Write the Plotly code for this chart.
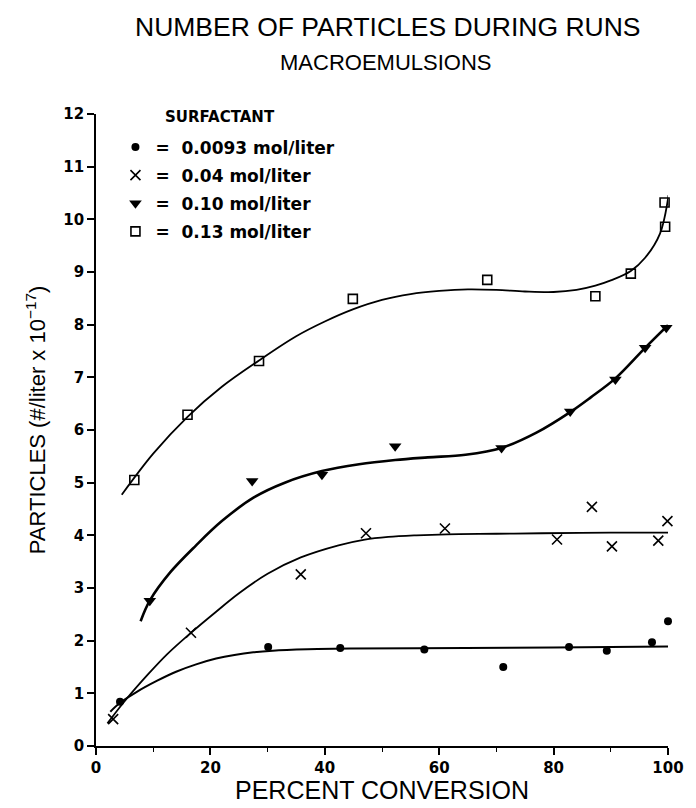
import plotly.graph_objects as go

# ---- data ----
x_0093 = [4.2, 30.1, 42.7, 57.4, 71.2, 82.7, 89.3, 97.2, 100.0]
y_0093 = [0.84, 1.88, 1.86, 1.83, 1.50, 1.88, 1.81, 1.97, 2.37]

x_004 = [3.0, 16.6, 35.8, 47.2, 61.0, 80.6, 86.7, 90.2, 98.3, 99.9]
y_004 = [0.51, 2.15, 3.26, 4.04, 4.13, 3.92, 4.54, 3.79, 3.90, 4.27]

x_010 = [9.4, 27.3, 39.5, 52.3, 70.9, 82.9, 90.8, 96.0, 99.7]
y_010 = [2.76, 5.03, 5.15, 5.69, 5.66, 6.35, 6.96, 7.56, 7.94]

x_013 = [6.7, 16.0, 28.5, 44.9, 68.4, 87.3, 93.5, 99.5, 99.4]
y_013 = [5.05, 6.29, 7.31, 8.49, 8.85, 8.54, 8.97, 9.86, 10.32]

# fitted curves
cx_0093 = [2.5, 4.2, 7.0, 10.7, 14.0, 17.5, 21.0, 24.2, 27.5, 30.9, 37.0, 44.4, 64.6, 80.0, 100.0]
cy_0093 = [0.65, 0.82, 1.02, 1.24, 1.41, 1.55, 1.66, 1.73, 1.78, 1.81, 1.835, 1.85, 1.86, 1.87, 1.89]

cx_004 = [2.0, 5.0, 9.0, 12.5, 16.6, 21.0, 25.0, 30.0, 35.8, 42.4, 47.0, 51.1, 56.0, 61.3, 70.0, 78.0, 90.0, 100.0]
cy_004 = [0.43, 0.85, 1.35, 1.75, 2.15, 2.55, 2.90, 3.27, 3.58, 3.81, 3.92, 3.97, 4.00, 4.02, 4.03, 4.04, 4.05, 4.05]

cx_010 = [7.8, 9.4, 13.0, 17.5, 22.0, 27.6, 33.0, 39.5, 46.0, 52.3, 58.0, 64.6, 70.9, 77.0, 82.9, 86.5, 90.8, 96.0, 100.0]
cy_010 = [2.37, 2.76, 3.30, 3.81, 4.27, 4.72, 5.00, 5.22, 5.35, 5.43, 5.48, 5.53, 5.66, 5.95, 6.34, 6.62, 6.98, 7.56, 7.99]

cx_013 = [4.5, 10.0, 16.0, 22.0, 28.5, 35.0, 40.0, 44.9, 50.0, 55.0, 60.0, 65.0, 70.0, 75.0, 80.0, 84.0, 87.3, 90.0, 93.5, 96.0, 98.6, 100.1]
cy_013 = [4.77, 5.55, 6.25, 6.82, 7.32, 7.78, 8.06, 8.29, 8.47, 8.58, 8.64, 8.67, 8.66, 8.63, 8.62, 8.66, 8.74, 8.84, 9.02, 9.27, 9.73, 10.46]

legend_title = "SURFACTANT"
labels = ["=  0.0093 mol/liter", "=  0.04 mol/liter", "=  0.10 mol/liter", "=  0.13 mol/liter"]

x_ticks = [0, 20, 40, 60, 80, 100]
x_minor = [10, 30, 50, 70, 90]
y_ticks = list(range(0, 13))

fig = go.Figure()

curves = [(cx_0093, cy_0093, 2), (cx_004, cy_004, 1.8), (cx_010, cy_010, 2.6), (cx_013, cy_013, 1.8)]
for cx, cy, w in curves:
    fig.add_trace(go.Scatter(x=cx, y=cy, mode="lines",
                             line=dict(color="black", width=w, shape="spline", smoothing=1.0),
                             showlegend=False, hoverinfo="skip"))

series = [
    (x_0093, y_0093, dict(symbol="circle", size=8, color="black")),
    (x_004, y_004, dict(symbol="x-thin-open", size=10, color="black", line=dict(width=1.6, color="black"))),
    (x_010, y_010, dict(symbol="triangle-down", size=11, color="black")),
    (x_013, y_013, dict(symbol="square-open", size=9, color="black", line=dict(width=1.6, color="black"))),
]
for i, ((xs, ys, mk), lab) in enumerate(zip(series, labels)):
    fig.add_trace(go.Scatter(x=xs, y=ys, mode="markers", marker=mk, name=lab, legendgroup=f"g{i}",
                             cliponaxis=False))

axis_common = dict(showline=True, linecolor="black", linewidth=1.6, ticks="outside", ticklen=7, tickwidth=1.5,
                   tickcolor="black", showgrid=False, zeroline=False,
                   tickfont=dict(family="DejaVu Sans", size=15, color="black", weight="bold"))

fig.update_xaxes(range=[0, 100], tickvals=x_ticks, **axis_common,
                 minor=dict(tickvals=x_minor, ticks="outside", ticklen=4, tickwidth=1.2, tickcolor="black"))
fig.update_yaxes(range=[0, 12], tickvals=y_ticks, **axis_common)

fig.update_layout(
    width=696, height=808,
    margin=dict(l=96, r=16, t=114, b=62),
    paper_bgcolor="white", plot_bgcolor="white",
    font=dict(family="Liberation Sans", color="black"),
    legend=dict(x=0.034, y=0.9755, xanchor="left", yanchor="top", bgcolor="rgba(0,0,0,0)",
                font=dict(family="DejaVu Sans", size=17, weight="bold"), itemwidth=30, tracegroupgap=3),
    annotations=[
        dict(text="NUMBER OF PARTICLES DURING RUNS", x=394, y=27, xref="paper", yref="paper", showarrow=False,
             font=dict(size=26.5, family="Liberation Sans")),
        dict(text="MACROEMULSIONS", x=392, y=62, xref="paper", yref="paper", showarrow=False,
             font=dict(size=22, family="Liberation Sans")),
        dict(text="PERCENT CONVERSION", x=388, y=790, xref="paper", yref="paper", showarrow=False,
             font=dict(size=25, family="Liberation Sans")),
        dict(text="PARTICLES (#/liter x 10<sup>−17</sup>)", x=35, y=420, xref="paper", yref="paper",
             showarrow=False, textangle=-90, font=dict(size=22, family="Liberation Sans")),
        dict(text=legend_title, x=223, y=117, xref="paper", yref="paper", showarrow=False,
             font=dict(size=15, family="DejaVu Sans", weight="bold")),
    ],
)

# convert pixel positions of annotations to paper coordinates
pw, ph = 696 - 96 - 16, 808 - 114 - 62
for a in fig.layout.annotations:
    a.x = (a.x - 96) / pw
    a.y = 1 - (a.y - 114) / ph
    a.xanchor = "center"
    a.yanchor = "middle"

fig.write_html("out.html")
